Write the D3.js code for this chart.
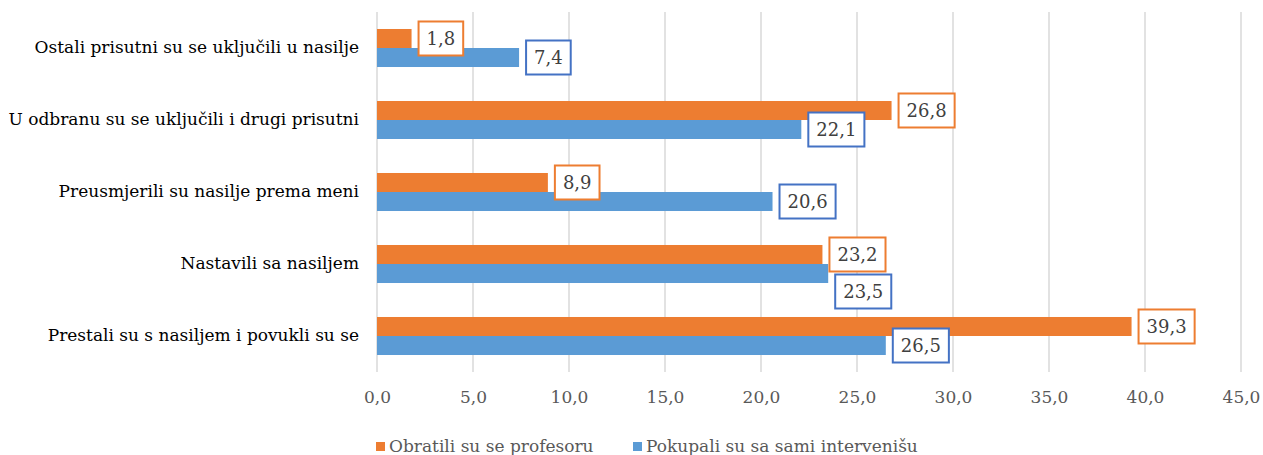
<!DOCTYPE html>
<html>
<head>
<meta charset="utf-8">
<script src="https://cdn.jsdelivr.net/npm/d3@7"></script>
<style>
  html, body { margin: 0; padding: 0; background: #fff; }
  svg { display: block; }
  svg text { font-family: "DejaVu Serif", "Noto Serif", "Liberation Serif", serif; }
</style>
</head>
<body>
<svg id="chart" width="1263" height="455"></svg>
<script>
const categories = [
  "Ostali prisutni su se uključili u nasilje",
  "U odbranu su se uključili i drugi prisutni",
  "Preusmjerili su nasilje prema meni",
  "Nastavili sa nasiljem",
  "Prestali su s nasiljem i povukli su se"
];
const seriesNames = ["Obratili su se profesoru", "Pokupali su sa sami intervenišu"];
const profesoru = [1.8, 26.8, 8.9, 23.2, 39.3];
const sami = [7.4, 22.1, 20.6, 23.5, 26.5];
const xTicks = [0, 5, 10, 15, 20, 25, 30, 35, 40, 45];

const colors = ["#ED7D31", "#5B9BD5"];
const labelBorders = ["#ED7D31", "#4472C4"];
const seriesValues = [profesoru, sami];

const svg = d3.select("#chart");
const x = d3.scaleLinear().domain([0, 45]).range([377, 1241]);
const y = d3.scaleBand().domain(categories).range([12, 372]).paddingInner(0.472).paddingOuter(0.236);
const ySub = d3.scaleBand().domain([0, 1]).range([0, y.bandwidth()]);

// gridlines
svg.append("g").selectAll("line").data(xTicks).join("line")
  .attr("x1", d => x(d)).attr("x2", d => x(d))
  .attr("y1", 12).attr("y2", 372)
  .attr("stroke", "#d9d9d9").attr("stroke-width", 1.5);

// x axis labels
const xAxis = d3.axisBottom(x).tickValues(xTicks)
  .tickFormat(d => d3.format(".1f")(d).replace(".", ","))
  .tickSize(0).tickPadding(0);
const gx = svg.append("g").attr("transform", "translate(0,391)").call(xAxis);
gx.attr("font-family", null);
gx.select(".domain").remove();
gx.selectAll("text").attr("font-size", 17).attr("fill", "#595959");

// y axis labels
const yAxis = d3.axisLeft(y).tickSize(0).tickPadding(0);
const gy = svg.append("g").attr("transform", "translate(359,0)").call(yAxis);
gy.attr("font-family", null);
gy.select(".domain").remove();
gy.selectAll("text").attr("font-size", 17).attr("fill", "#000").attr("dy", "0.32em");

// bars
const groups = svg.append("g").selectAll("g").data(seriesValues).join("g");
groups.each(function(vals, si) {
  d3.select(this).selectAll("rect").data(vals).join("rect")
    .attr("x", x(0))
    .attr("y", (d, i) => y(categories[i]) + ySub(si))
    .attr("width", d => x(d) - x(0))
    .attr("height", ySub.bandwidth())
    .attr("fill", colors[si]);
});

// data labels with boxes (blue box pushed down if it collides with orange box)
const labelsG = svg.append("g");
const bh = 34;
categories.forEach((c, i) => {
  let prev = null;
  seriesValues.forEach((vals, si) => {
    const v = vals[i];
    let cy = y(c) + ySub(si) + ySub.bandwidth() / 2;
    const g = labelsG.append("g");
    const txt = d3.format(".1f")(v).replace(".", ",");
    const t = g.append("text")
      .attr("font-size", 18).attr("fill", "#404040")
      .attr("dy", "0.35em").text(txt);
    const w = t.node().getComputedTextLength();
    const bx = x(v) + 7;
    const bw = w + 16;
    let top = cy - bh / 2;
    if (prev && bx < prev.x + prev.w && bx + bw > prev.x && top < prev.y + bh + 3) {
      top = prev.y + bh + 3;
      cy = top + bh / 2;
    }
    g.insert("rect", "text")
      .attr("x", bx).attr("y", top)
      .attr("width", bw).attr("height", bh)
      .attr("fill", "#fff").attr("stroke", labelBorders[si]).attr("stroke-width", 2);
    t.attr("x", bx + 8).attr("y", cy);
    prev = { x: bx, y: top, w: bw };
  });
});

// legend
const legend = svg.append("g");
const legendX = [376, 633];
seriesNames.forEach((name, si) => {
  legend.append("rect").attr("x", legendX[si]).attr("y", 442).attr("width", 9).attr("height", 9).attr("fill", colors[si]);
  legend.append("text").attr("x", legendX[si] + 13).attr("y", 452)
    .attr("font-size", 17).attr("fill", "#595959").text(name);
});
</script>
</body>
</html>
